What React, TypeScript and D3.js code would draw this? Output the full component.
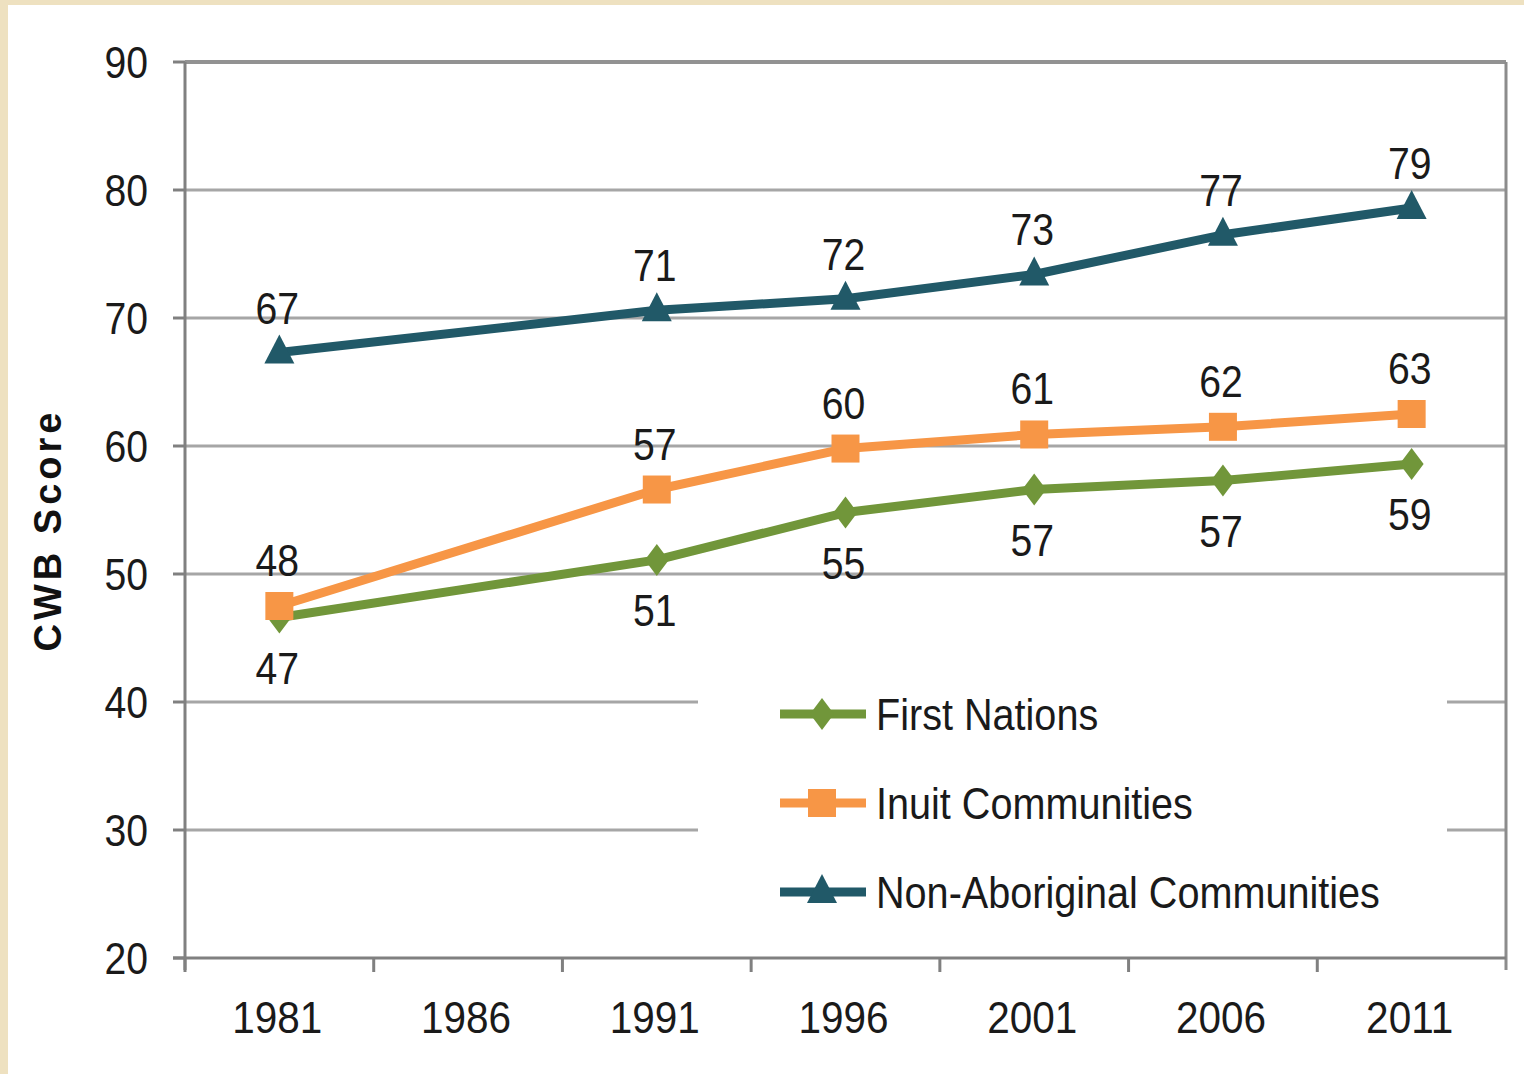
import React from "react";
import * as d3 from "d3";

const years = ["1981", "1986", "1991", "1996", "2001", "2006", "2011"];
const firstNations: (number | null)[] = [46.6, null, 51.1, 54.8, 56.6, 57.3, 58.6];
const inuit: (number | null)[] = [47.5, null, 56.6, 59.8, 60.9, 61.5, 62.5];
const nonAboriginal: (number | null)[] = [67.3, null, 70.6, 71.5, 73.4, 76.5, 78.6];
const firstNationsLabels = ["47", "", "51", "55", "57", "57", "59"];
const inuitLabels = ["48", "", "57", "60", "61", "62", "63"];
const nonAboriginalLabels = ["67", "", "71", "72", "73", "77", "79"];
const yTicks = [20, 30, 40, 50, 60, 70, 80, 90];
const seriesNames = ["First Nations", "Inuit Communities", "Non-Aboriginal Communities"];

const W = 1524;
const H = 1074;
const left = 185;
const right = 1506;
const top = 62;
const bottom = 958;

const FONT = "'Liberation Sans', Arial, sans-serif";

const x = d3.scaleBand<string>().domain(years).range([left, right]).paddingInner(0).paddingOuter(0);
const y = d3.scaleLinear().domain([20, 90]).range([bottom, top]);
const cx = (yr: string) => (x(yr) as number) + x.bandwidth() / 2;

const series = [
  { name: seriesNames[0], values: firstNations, labels: firstNationsLabels, color: "#71963A", marker: "diamond", labelDy: 66 },
  { name: seriesNames[1], values: inuit, labels: inuitLabels, color: "#F79646", marker: "square", labelDy: -30 },
  { name: seriesNames[2], values: nonAboriginal, labels: nonAboriginalLabels, color: "#215968", marker: "triangle", labelDy: -29 },
];

function NText({
  x: tx,
  y: ty,
  anchor = "start",
  sx = 0.87,
  size = 45,
  children,
}: {
  x: number;
  y: number;
  anchor?: string;
  sx?: number;
  size?: number;
  children: React.ReactNode;
}) {
  return (
    <text
      transform={`translate(${tx},${ty}) scale(${sx},1)`}
      textAnchor={anchor as any}
      fontSize={size}
      fill="#1A1A1A"
    >
      {children}
    </text>
  );
}

function Marker({ type, px, py, color }: { type: string; px: number; py: number; color: string }) {
  if (type === "square") {
    return <rect x={px - 14} y={py - 14} width={28} height={28} fill={color} />;
  }
  if (type === "diamond") {
    return <path d={`M${px},${py - 16} L${px + 12},${py} L${px},${py + 16} L${px - 12},${py} Z`} fill={color} />;
  }
  return <path d={`M${px},${py - 18} L${px + 15},${py + 11} L${px - 15},${py + 11} Z`} fill={color} />;
}

export default function App() {
  const line = d3
    .line<{ yr: string; v: number }>()
    .x((d) => cx(d.yr))
    .y((d) => y(d.v));

  const legendY = [714, 803, 892];

  return (
    <svg
      width={W}
      height={H}
      style={{ position: "absolute", left: 0, top: 0, display: "block" }}
      fontFamily={FONT}
    >
      <rect x={0} y={0} width={W} height={H} fill="#EEE1C0" />
      <rect x={8} y={5} width={W - 8} height={H - 5} fill="#FFFFFF" />

      {/* gridlines */}
      {yTicks.slice(1, -1).map((t) => (
        <line key={t} x1={left} x2={right} y1={y(t)} y2={y(t)} stroke="#A6A6A6" strokeWidth={3} />
      ))}
      {/* top border */}
      <line x1={left} x2={right} y1={top} y2={top} stroke="#929292" strokeWidth={4} />
      {/* right border */}
      <line x1={right} x2={right} y1={top} y2={bottom + 12} stroke="#8C8C8C" strokeWidth={3} />
      {/* y axis */}
      <line x1={left} x2={left} y1={top} y2={bottom + 12} stroke="#808080" strokeWidth={3} />
      {yTicks.map((t) => (
        <line key={"yt" + t} x1={left - 12} x2={left} y1={y(t)} y2={y(t)} stroke="#808080" strokeWidth={3} />
      ))}
      {/* x axis */}
      <line x1={left - 12} x2={right} y1={bottom} y2={bottom} stroke="#808080" strokeWidth={3} />
      {years.map((yr) => (
        <line
          key={"xt" + yr}
          x1={x(yr) as number}
          x2={x(yr) as number}
          y1={bottom}
          y2={bottom + 14}
          stroke="#808080"
          strokeWidth={3}
        />
      ))}

      {/* y tick labels */}
      {yTicks.map((t) => (
        <NText key={"yl" + t} x={148} y={y(t) + 16} anchor="end">
          {t}
        </NText>
      ))}
      {/* x tick labels */}
      {years.map((yr) => (
        <NText key={"xl" + yr} x={cx(yr) - 2} y={1033} anchor="middle" sx={0.9}>
          {yr}
        </NText>
      ))}

      {/* y title */}
      <text
        transform={`translate(61,530) rotate(-90)`}
        textAnchor="middle"
        fontSize={38}
        fontWeight="bold"
        letterSpacing={4}
        fill="#111"
      >
        CWB Score
      </text>

      {/* legend background */}
      <rect x={698} y={680} width={749} height={250} fill="#FFFFFF" />

      {/* series */}
      {series.map((s) => {
        const pts = years
          .map((yr, i) => ({ yr, v: s.values[i] as number, i }))
          .filter((d) => s.values[d.i] !== null);
        return (
          <g key={s.name}>
            <path d={line(pts) || ""} fill="none" stroke={s.color} strokeWidth={9} strokeLinejoin="round" />
            {pts.map((d) => (
              <Marker key={d.yr} type={s.marker} px={cx(d.yr)} py={y(d.v)} color={s.color} />
            ))}
            {pts.map((d) => (
              <NText key={"l" + d.yr} x={cx(d.yr) - 2} y={y(d.v) + s.labelDy} anchor="middle">
                {s.labels[d.i]}
              </NText>
            ))}
          </g>
        );
      })}

      {/* legend */}
      {series.map((s, i) => (
        <g key={"lg" + s.name}>
          <line x1={780} x2={866} y1={legendY[i]} y2={legendY[i]} stroke={s.color} strokeWidth={9} />
          <Marker type={s.marker} px={822} py={legendY[i]} color={s.color} />
          <NText x={876} y={legendY[i] + 16} sx={0.88}>
            {s.name}
          </NText>
        </g>
      ))}
    </svg>
  );
}
